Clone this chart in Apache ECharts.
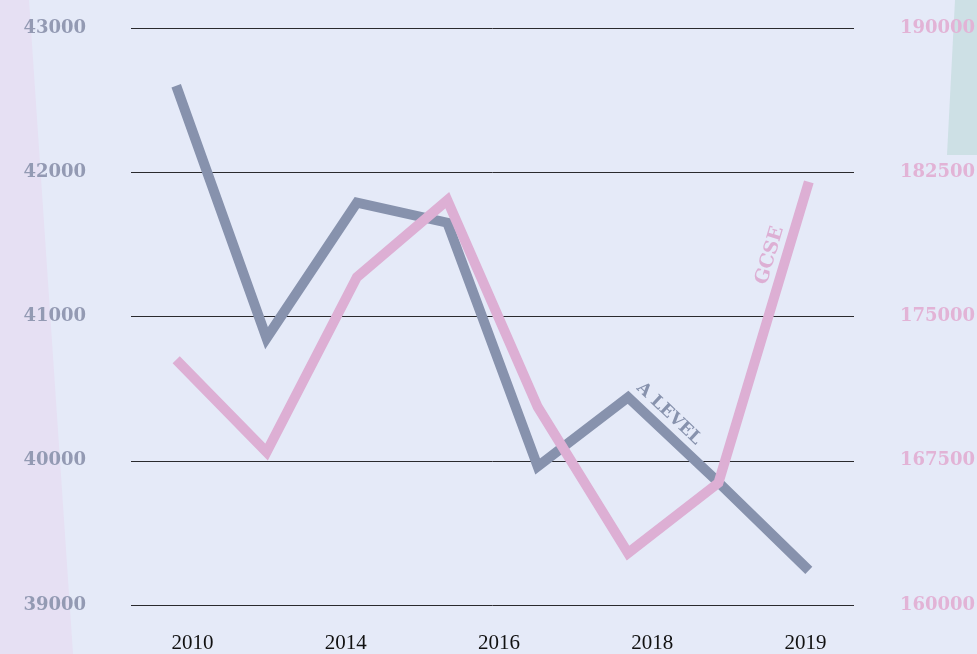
<!DOCTYPE html>
<html>
<head>
<meta charset="utf-8">
<script src="https://cdn.jsdelivr.net/npm/echarts@6/dist/echarts.min.js"></script>
<style>
  html, body { margin: 0; padding: 0; background: #e5eaf8; overflow: hidden; }
  #chart { width: 977px; height: 654px; }
</style>
</head>
<body>
<div id="chart"></div>
<script>
// 数据点（隐藏的类别轴）
var pointYears = ['2010', '2011', '2012', '2013', '2014', '2016', '2018', '2019']
// 可见的年份标签
var yearLabels = ['2010', '2014', '2016', '2018', '2019']
var aLevel = [42600, 40850, 41790, 41650, 39960, 40440, 39850, 39240]
var gcse = [172750, 167950, 177050, 181050, 170300, 162700, 166350, 182000]
var leftTicks = { min: 39000, max: 43000, step: 1000 }
var rightTicks = { min: 160000, max: 190000, step: 7500 }

var greyColor = '#8792ad'
var pinkColor = '#ddafd4'

var chart = echarts.init(document.getElementById('chart'))

function plain (v) { return String(v) }

var option = {
  animation: false,
  backgroundColor: '#e5eaf8',
  grid: [
    { left: 131, right: 123, top: 28, bottom: 49, outerBoundsMode: 'none', containLabel: false },
    { left: 116, right: 95, top: 28, bottom: 49, outerBoundsMode: 'none', containLabel: false }
  ],
  xAxis: [
    {
      type: 'category', gridIndex: 0, data: pointYears, boundaryGap: true,
      axisLine: { show: false }, axisTick: { show: false }, axisLabel: { show: false }
    },
    {
      type: 'category', gridIndex: 1, data: yearLabels, boundaryGap: true,
      axisLine: { show: false }, axisTick: { show: false },
      axisLabel: { color: '#111', fontFamily: 'Liberation Serif', fontSize: 21, margin: 28 }
    }
  ],
  yAxis: [
    {
      type: 'value', gridIndex: 0, position: 'left',
      min: leftTicks.min, max: leftTicks.max, interval: leftTicks.step,
      axisLine: { show: false }, axisTick: { show: false },
      splitLine: { show: true, lineStyle: { color: '#2a2a2e', width: 1 } },
      axisLabel: { color: '#939ab3', fontFamily: 'DejaVu Serif', fontWeight: 'bold', fontSize: 18, margin: 45, formatter: plain }
    },
    {
      type: 'value', gridIndex: 0, position: 'right',
      min: rightTicks.min, max: rightTicks.max, interval: rightTicks.step,
      axisLine: { show: false }, axisTick: { show: false }, splitLine: { show: false },
      axisLabel: { color: '#e2b3d6', fontFamily: 'DejaVu Serif', fontWeight: 'bold', fontSize: 18, margin: 46, formatter: plain }
    },
    {
      type: 'value', gridIndex: 1, show: false
    }
  ],
  graphic: [
    {
      type: 'polygon', z: -10, silent: true,
      shape: { points: [[0, 0], [29, 0], [73, 654], [0, 654]] },
      style: { fill: '#e6e0f3' }
    },
    {
      type: 'polygon', z: -10, silent: true,
      shape: { points: [[955, 0], [977, 0], [977, 155], [947, 155]] },
      style: { fill: '#cde0e5' }
    }
  ],
  series: [
    {
      name: 'A LEVEL', type: 'line', xAxisIndex: 0, yAxisIndex: 0, data: aLevel,
      symbol: 'none', z: 3,
      lineStyle: { color: greyColor, width: 10, join: 'miter', cap: 'butt' }
    },
    {
      name: 'GCSE', type: 'line', xAxisIndex: 0, yAxisIndex: 1, data: gcse,
      symbol: 'none', z: 4,
      lineStyle: { color: pinkColor, width: 10, join: 'miter', cap: 'butt' }
    }
  ]
}
chart.setOption(option)

// 沿线段放置系列名称
function labelOnSegment (name, yIdx, data, i, t, offset, color, size) {
  var a = chart.convertToPixel({ xAxisIndex: 0, yAxisIndex: yIdx }, [i, data[i]])
  var b = chart.convertToPixel({ xAxisIndex: 0, yAxisIndex: yIdx }, [i + 1, data[i + 1]])
  var dx = b[0] - a[0]
  var dy = b[1] - a[1]
  var len = Math.sqrt(dx * dx + dy * dy)
  var angle = Math.atan2(-dy, dx)
  // 法向量（朝上方）
  var nx = dy / len
  var ny = -dx / len
  if (ny > 0) { nx = -nx; ny = -ny }
  return {
    type: 'text', z: 10, silent: true,
    x: a[0] + dx * t + nx * offset,
    y: a[1] + dy * t + ny * offset,
    rotation: angle,
    style: {
      text: name, fill: color, align: 'center', verticalAlign: 'middle',
      font: 'bold ' + size + 'px "DejaVu Serif"'
    }
  }
}

var graphics = option.graphic.slice()
graphics.push(labelOnSegment('A LEVEL', 0, aLevel, 5, 0.33, 16, greyColor, 17))
graphics.push(labelOnSegment('GCSE', 1, gcse, 6, 0.74, 16, pinkColor, 19))
chart.setOption({ graphic: graphics })
</script>
</body>
</html>
